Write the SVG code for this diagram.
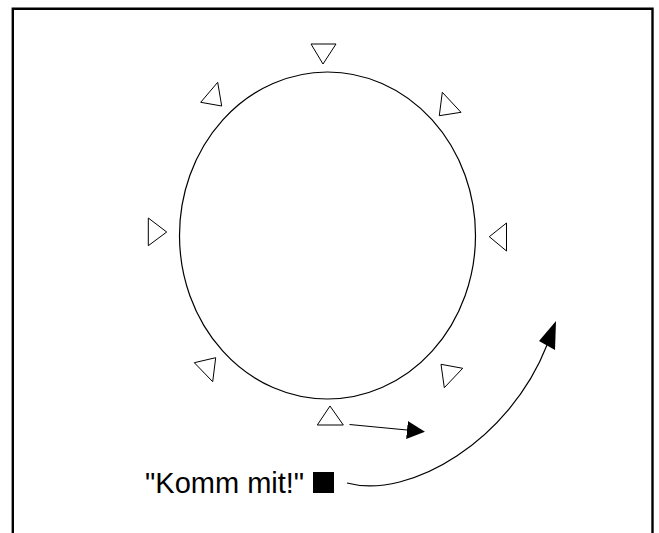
<svg xmlns="http://www.w3.org/2000/svg" width="659" height="533" viewBox="0 0 659 533">
<style>
.tri{fill:#fff;stroke:#000;stroke-width:1}
.edge{fill:none;stroke:#000;stroke-width:1.2}
.lbl{font-family:"Liberation Sans",Arial,sans-serif;font-size:29px;fill:#000}
</style>
<defs>
<marker id="ah" markerWidth="18" markerHeight="18" refX="0" refY="9" orient="auto" markerUnits="userSpaceOnUse" viewBox="0 0 18 18">
<path d="M0,0 L18,9 L0,18 Z" fill="#000"/>
</marker>
</defs>
<rect width="659" height="533" fill="#fff"/>
<path d="M12.8,540 V8.7 H652.5 V540" fill="none" stroke="#000" stroke-width="2.4"/>
<g id="circle"><ellipse cx="327.5" cy="235.5" rx="148" ry="163.5" fill="none" stroke="#000" stroke-width="1.2"/></g>
<g id="t-top"><polygon class="tri" points="311,44 336,44 323,64"/></g>
<g id="t-topright"><polygon class="tri" points="442.3,92.3 461,112.3 439.3,115.7"/></g>
<g id="t-right"><polygon class="tri" points="506.5,223 506.5,251 489.3,236.7"/></g>
<g id="t-bottomright"><polygon class="tri" points="441,364.3 462.7,368.3 444.3,387.7"/></g>
<g id="t-bottom"><polygon class="tri" points="317.3,425 343.3,425 330,406"/></g>
<g id="t-bottomleft"><polygon class="tri" points="194.3,362.7 215.7,357.7 212.7,381.7"/></g>
<g id="t-left"><polygon class="tri" points="148.3,218 148.3,245.7 166.7,232"/></g>
<g id="t-topleft"><polygon class="tri" points="217.7,82.3 221.7,106 200.7,102.3"/></g>
<g id="label"><text class="lbl" x="145" y="492.5">"Komm mit!"</text><rect x="313" y="472" width="21" height="21" fill="#000"/></g>
<g id="connectors">
<path class="edge" d="M349.5,424.5 L407,430" marker-end="url(#ah)"/>
<path class="edge" d="M347,483 C410,500 510,440 547,345"/>
<polygon points="556,321 539,341 555,350" fill="#000"/>
</g>
</svg>
